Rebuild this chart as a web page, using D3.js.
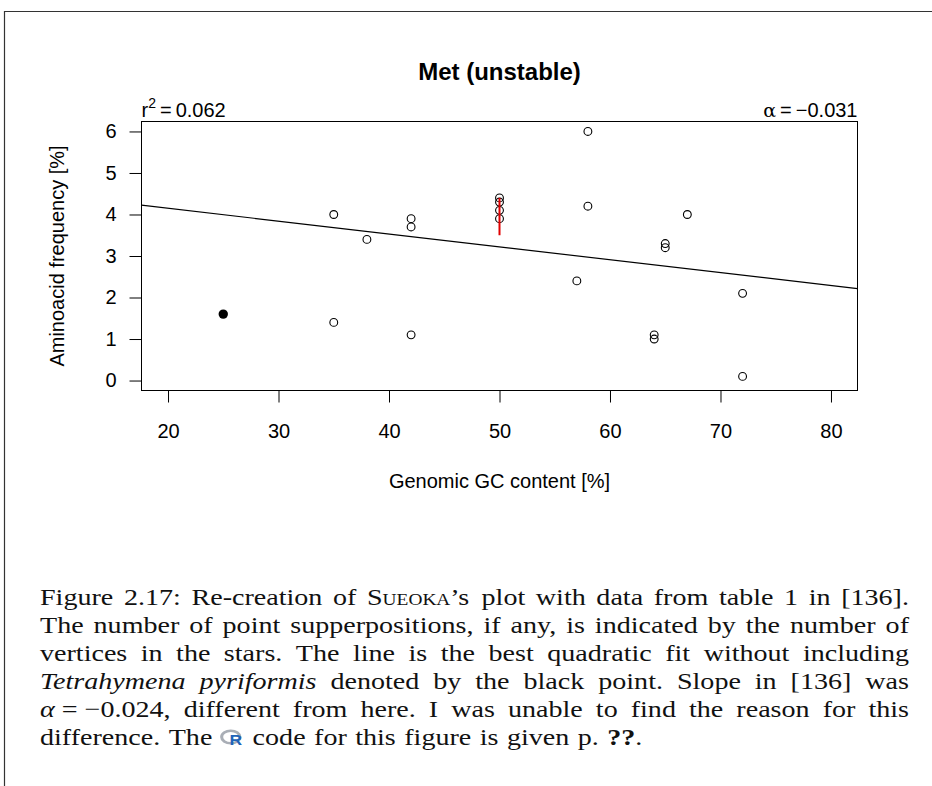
<!DOCTYPE html>
<html lang="en">
<head>
<meta charset="UTF-8">
<title>Met (unstable)</title>
<script src="https://d3js.org/d3.v7.min.js"></script>
<style>
  body { margin: 0; background: #fff; }
  svg { display: block; }
  .plot text { font-family: "Liberation Sans", Arial, sans-serif; fill: #000; }
  .caption text { font-family: "Liberation Serif", "Times New Roman", serif; font-size: 24px; fill: #111; }
  .caption text.logo { font-family: "Liberation Sans", Arial, sans-serif; font-size: 15px; font-weight: bold; fill: #1f63b8; }
</style>
</head>
<body>
<svg width="932" height="786"></svg>
<script>
// ---- data ----
const gcContent = [35, 35, 38, 42, 42, 42, 50, 50, 50, 50, 57, 58, 58, 64, 64, 65, 65, 67, 72, 72];
const aaFreq    = [4.0, 1.4, 3.4, 3.9, 3.7, 1.1, 4.4, 4.3, 4.1, 3.9, 2.4, 6.0, 4.2, 1.1, 1.0, 3.3, 3.2, 4.0, 2.1, 0.1];
// Tetrahymena pyriformis (black point, left out of the fit)
const tetraGC   = [25];
const tetraFreq = [1.6];
// red mark at GC = 50
const markGC   = [50, 50];
const markFreq = [3.5, 4.4];
// fitted line
const fitIntercept = 4.77;
const fitSlope = -0.031;
const xTicks = [20, 30, 40, 50, 60, 70, 80];
const yTicks = [0, 1, 2, 3, 4, 5, 6];
const rSquaredText = "0.062";
const alphaText = "\u22120.031";

const caption = [
  "Figure 2.17: Re-creation of {sc:Sueoka}\u2019s plot with data from table 1 in [136].",
  "The number of point supperpositions, if any, is indicated by the number of",
  "vertices in the stars. The line is the best quadratic fit without including",
  "{i:Tetrahymena} {i:pyriformis} denoted by the black point. Slope in [136] was",
  "{i:\u03b1}\u00a0=\u00a0\u22120.024, different from here. I was unable to find the reason for this",
  "difference. The {logo} code for this figure is given p. {b:??}."
];

const svg = d3.select("svg");
const box = {left: 141.5, right: 857.5, top: 121.5, bottom: 390.5};

// page frame (top and left rules)
svg.append("path")
  .attr("d", "M4.5,786 V11.5 H932")
  .attr("fill", "none").attr("stroke", "#333").attr("stroke-width", 1.2);

const x = d3.scaleLinear().domain([17.6, 82.4]).range([box.left, box.right]);
const y = d3.scaleLinear().domain([-0.24, 6.24]).range([box.bottom, box.top]);

const plot = svg.append("g").attr("class", "plot");

svg.append("defs").append("clipPath").attr("id", "box")
  .append("rect")
  .attr("x", box.left).attr("y", box.top)
  .attr("width", box.right - box.left).attr("height", box.bottom - box.top);

// axes
const xAxis = plot.append("g")
  .attr("transform", `translate(0,${box.bottom})`)
  .call(d3.axisBottom(x).tickValues(xTicks).tickFormat(d3.format("d"))
    .tickSize(12).tickSizeOuter(0).tickPadding(21));
const yAxis = plot.append("g")
  .attr("transform", `translate(${box.left},0)`)
  .call(d3.axisLeft(y).tickValues(yTicks).tickFormat(d3.format("d"))
    .tickSize(12).tickSizeOuter(0).tickPadding(13));
[xAxis, yAxis].forEach(a => {
  a.select(".domain").remove();
  a.attr("font-size", 20).attr("font-family", null);
  a.selectAll("line").attr("stroke", "#000");
});

// plot box
plot.append("rect")
  .attr("x", box.left).attr("y", box.top)
  .attr("width", box.right - box.left).attr("height", box.bottom - box.top)
  .attr("fill", "none").attr("stroke", "#000").attr("stroke-width", 1);

// fit line
const xd = x.domain();
plot.append("line")
  .attr("clip-path", "url(#box)")
  .attr("x1", x(xd[0])).attr("y1", y(fitIntercept + fitSlope * xd[0]))
  .attr("x2", x(xd[1])).attr("y2", y(fitIntercept + fitSlope * xd[1]))
  .attr("stroke", "#000").attr("stroke-width", 1.2);

// points
plot.selectAll("circle.pt")
  .data(d3.zip(gcContent, aaFreq))
  .join("circle")
  .attr("class", "pt")
  .attr("cx", d => x(d[0])).attr("cy", d => y(d[1]))
  .attr("r", 3.9)
  .attr("fill", "none").attr("stroke", "#000").attr("stroke-width", 1.1);

plot.selectAll("circle.tetra")
  .data(d3.zip(tetraGC, tetraFreq))
  .join("circle")
  .attr("class", "tetra")
  .attr("cx", d => x(d[0])).attr("cy", d => y(d[1]))
  .attr("r", 4.7)
  .attr("fill", "#000");

plot.append("line")
  .attr("x1", x(markGC[0])).attr("y1", y(markFreq[0]))
  .attr("x2", x(markGC[1])).attr("y2", y(markFreq[1]))
  .attr("stroke", "#e00000").attr("stroke-width", 2);

// titles
plot.append("text")
  .attr("x", (box.left + box.right) / 2).attr("y", 80)
  .attr("text-anchor", "middle").attr("font-size", 24).attr("font-weight", "bold")
  .text("Met (unstable)");

plot.append("text")
  .attr("x", (box.left + box.right) / 2).attr("y", 488)
  .attr("text-anchor", "middle").attr("font-size", 20)
  .text("Genomic GC content [%]");

plot.append("text")
  .attr("transform", `translate(64,${(box.top + box.bottom) / 2}) rotate(-90)`)
  .attr("text-anchor", "middle").attr("font-size", 20)
  .text("Aminoacid frequency [%]");

const r2 = plot.append("text")
  .attr("x", box.left).attr("y", 117).attr("font-size", 20);
r2.append("tspan").text("r");
r2.append("tspan").attr("dy", -9).attr("font-size", 14).text("2");
r2.append("tspan").attr("dy", 9).text("\u2009=\u2009" + rSquaredText);

const al = plot.append("text")
  .attr("x", box.right).attr("y", 117).attr("font-size", 20)
  .attr("text-anchor", "end");
al.append("tspan").attr("font-family", "'DejaVu Serif', serif").attr("font-size", 19).text("\u03b1");
al.append("tspan").text("\u2009=\u2009" + alphaText);

// ---- caption, justified ----
const cap = svg.append("g").attr("class", "caption");
const capLeft = 40, capRight = 909, capTop = 605, capLead = 28, fs = 24;
const logoW = 20;

function parseWord(w) {
  const parts = [];
  const re = /\{(sc|i|b):([^}]*)\}|\{logo\}|([^{]+)/g;
  let m;
  while ((m = re.exec(w))) {
    if (m[0] === "{logo}") parts.push({logo: true});
    else if (m[1]) parts.push({style: m[1], t: m[2]});
    else parts.push({t: m[3]});
  }
  return parts;
}

function drawWord(g, parts) {
  if (parts[0].logo) {
    const lg = g.append("g");
    lg.append("ellipse").attr("cx", 8.5).attr("cy", -8).attr("rx", 7.8).attr("ry", 6.3)
      .attr("fill", "none").attr("stroke", "#a9aeb6").attr("stroke-width", 2.6);
    lg.append("text").attr("class", "logo").attr("x", 7.5).attr("y", 0).text("R");
    return {node: lg, w: logoW, logo: true};
  }
  const t = g.append("text").attr("y", 0);
  parts.forEach(p => {
    const ts = t.append("tspan").text(p.t);
    if (p.style === "i") ts.attr("font-style", "italic");
    if (p.style === "b") ts.attr("font-weight", "bold");
    if (p.style === "sc") ts.style("font-variant", "small-caps");
  });
  return {node: t, w: t.node().getComputedTextLength(), logo: false};
}

const lines = caption.map((line, i) => {
  const g = cap.append("g");
  const words = line.split(" ").map(w => drawWord(g, parseWord(w)));
  const sum = d3.sum(words, d => d.w);
  return {g, words, sum, last: i === caption.length - 1};
});

// Computer Modern is wider than Liberation Serif: stretch glyphs horizontally
const space = 0.3 * fs;
const fullW = capRight - capLeft;
const s = Math.min(1.17, d3.min(lines.filter(l => !l.last),
  l => fullW / (l.sum + 0.22 * fs * (l.words.length - 1))));

lines.forEach((ln, i) => {
  const n = ln.words.length;
  const gap = ln.last ? space : (fullW / s - ln.sum) / (n - 1);
  let pos = 0;
  ln.words.forEach(w => {
    if (w.logo) w.node.attr("transform", `translate(${pos},0)`);
    else w.node.attr("x", pos);
    pos += w.w + gap;
  });
  ln.g.attr("transform", `translate(${capLeft},${capTop + i * capLead}) scale(${s},1)`);
});
</script>
</body>
</html>
